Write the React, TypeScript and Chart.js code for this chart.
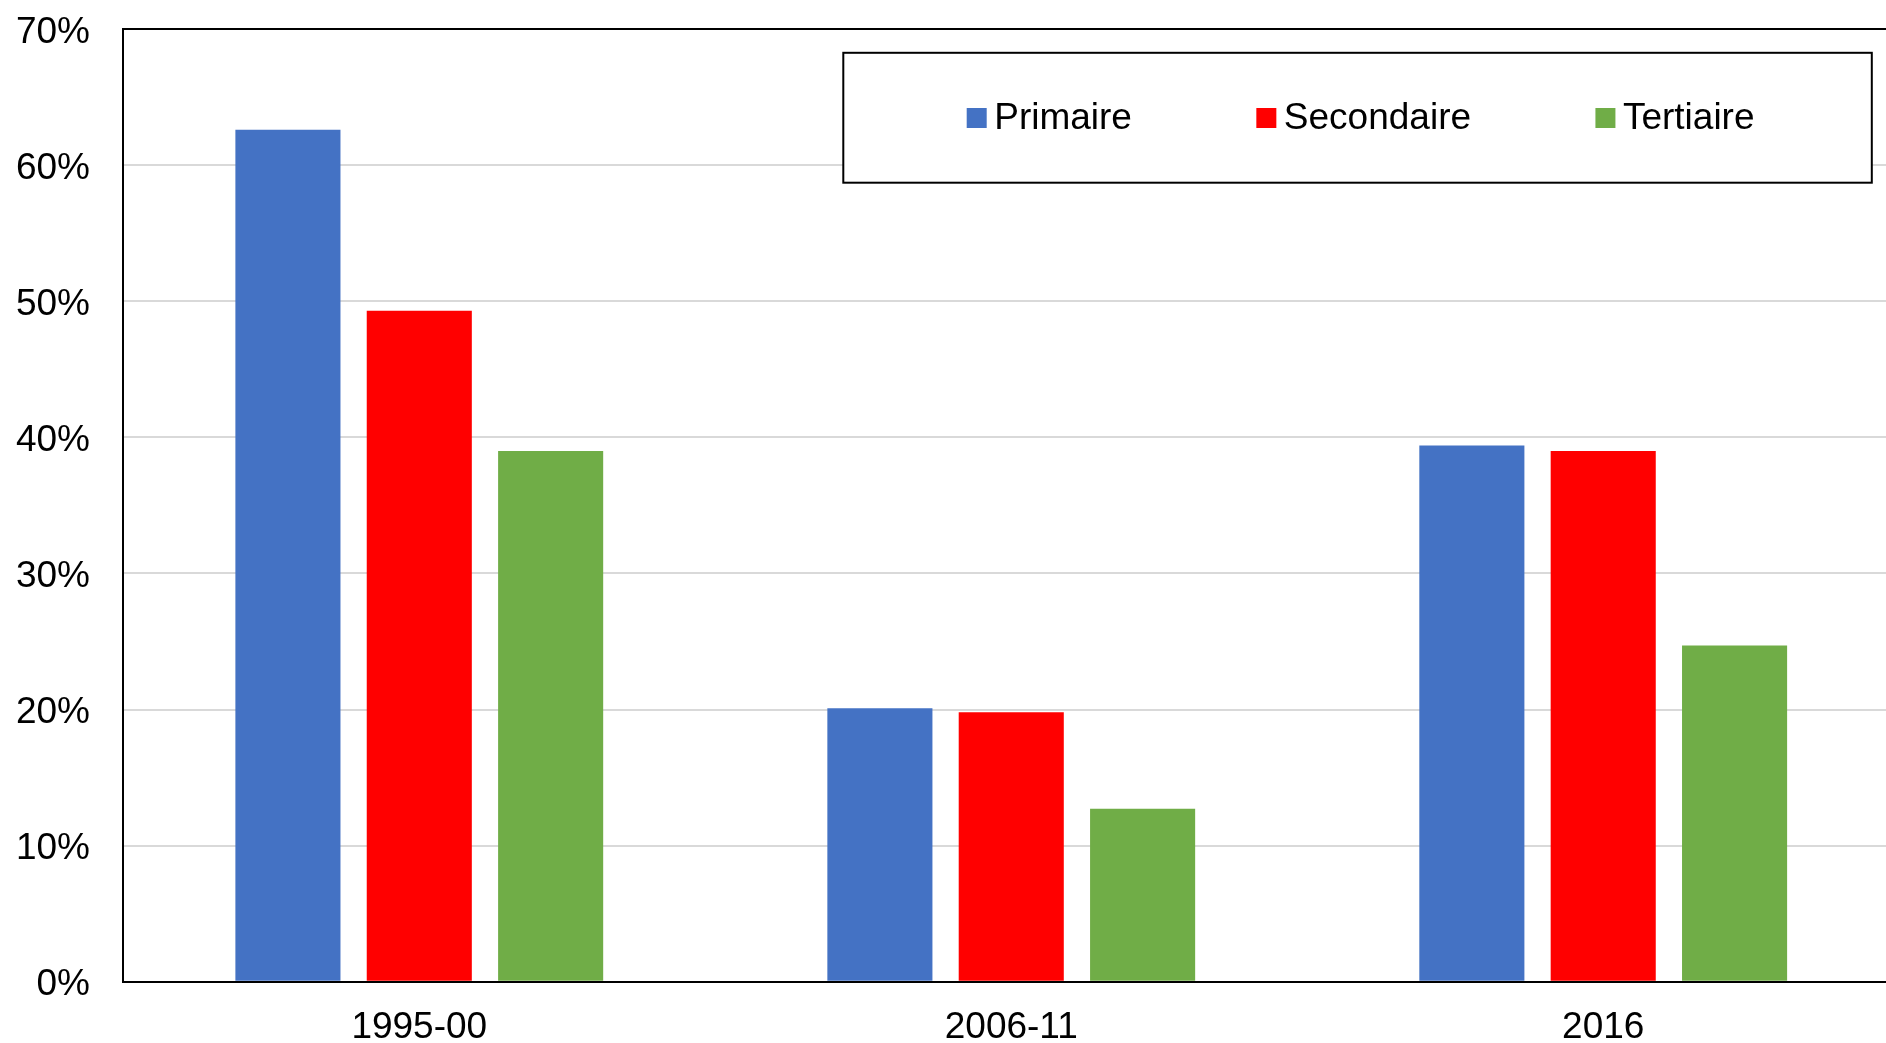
import { useEffect, useRef } from "react";
import { Chart, registerables } from "chart.js";

Chart.register(...registerables);

const categories = ["1995-00", "2006-11", "2016"];
const primaire = [62.6, 20.1, 39.4];
const secondaire = [49.3, 19.8, 39.0];
const tertiaire = [39.0, 12.7, 24.7];
const seriesLabels = ["Primaire", "Secondaire", "Tertiaire"];
const seriesColors = ["#4472C4", "#FF0000", "#70AD47"];
const yMin = 0;
const yMax = 70;
const yStep = 10;

const FONT = '"Liberation Sans", Arial, sans-serif';
const FONT_SIZE = 37;
const CANVAS_W = 1900;
const CANVAS_H = 1052;

const framePlugin = {
  id: "frame",
  afterDatasetsDraw(chart: any) {
    const { ctx, chartArea } = chart;
    ctx.save();
    ctx.strokeStyle = "#000";
    ctx.lineWidth = 2;
    ctx.beginPath();
    ctx.moveTo(chartArea.left - 1, chartArea.top);
    ctx.lineTo(chartArea.right, chartArea.top);
    ctx.lineTo(chartArea.right, chartArea.bottom);
    ctx.stroke();
    ctx.restore();
  },
};

const legendBoxPlugin = {
  id: "legendBox",
  afterDraw(chart: any) {
    const ctx = chart.ctx;
    ctx.save();
    const bx = 843.3;
    const by = 52.8;
    const bw = 1871.8 - 843.3;
    const bh = 182.7 - 52.8;
    ctx.fillStyle = "#fff";
    ctx.fillRect(bx, by, bw, bh);
    ctx.lineWidth = 2;
    ctx.strokeStyle = "#000";
    ctx.strokeRect(bx, by, bw, bh);
    ctx.font = `${FONT_SIZE}px ${FONT}`;
    ctx.textBaseline = "alphabetic";
    ctx.textAlign = "left";
    const sq = 20;
    const gapText = 7.5;
    const gapItem = 124.4;
    const items = chart.data.datasets.map((ds: any) => ({
      label: ds.label,
      color: ds.backgroundColor,
      w: ctx.measureText(ds.label).width,
    }));
    let x = 966.7;
    const baseline = 129.3;
    for (const it of items) {
      ctx.fillStyle = it.color;
      ctx.fillRect(x, 108, sq, sq);
      ctx.fillStyle = "#000";
      ctx.fillText(it.label, x + sq + gapText, baseline);
      x += sq + gapText + it.w + gapItem;
    }
    ctx.restore();
  },
};

export default function App() {
  const canvasRef = useRef<HTMLCanvasElement | null>(null);

  useEffect(() => {
    if (!canvasRef.current) return;
    const series = [primaire, secondaire, tertiaire];
    const chart = new Chart(canvasRef.current, {
      type: "bar",
      data: {
        labels: categories,
        datasets: series.map((d, i) => ({
          label: seriesLabels[i],
          data: d,
          backgroundColor: seriesColors[i],
          borderWidth: 0,
          categoryPercentage: 0.6657,
          barPercentage: 0.8,
        })),
      },
      options: {
        responsive: false,
        animation: false,
        devicePixelRatio: 1,
        layout: { padding: { left: 0, top: 29, right: 0.8, bottom: 0 } },
        plugins: {
          legend: { display: false },
          tooltip: { enabled: false },
        },
        scales: {
          x: {
            z: 1,
            grid: { display: false, drawTicks: false },
            border: { display: true, color: "#000", width: 2 },
            ticks: {
              color: "#000",
              padding: 24,
              font: { family: FONT, size: FONT_SIZE },
              maxRotation: 0,
            },
            afterFit: (scale: any) => {
              scale.height = CANVAS_H - 981.7;
              scale.paddingLeft = 0;
              scale.paddingRight = 0;
            },
          },
          y: {
            min: yMin,
            max: yMax,
            grid: { color: "#D9D9D9", lineWidth: 2, drawTicks: false },
            border: { display: true, color: "#000", width: 2 },
            ticks: {
              stepSize: yStep,
              color: "#000",
              padding: 33.3,
              labelOffset: 3.5,
              font: { family: FONT, size: FONT_SIZE },
              callback: (v: any) => `${v}%`,
            },
            afterFit: (scale: any) => {
              scale.width = 123.3;
              scale.paddingTop = 0;
              scale.paddingBottom = 0;
            },
          },
        },
      },
      plugins: [framePlugin, legendBoxPlugin],
    } as any);
    return () => chart.destroy();
  }, []);

  return (
    <div
      style={{
        position: "fixed",
        left: 0,
        top: 0,
        width: 1886,
        height: 1043,
        overflow: "hidden",
        background: "#fff",
      }}
    >
      <canvas
        ref={canvasRef}
        width={CANVAS_W}
        height={CANVAS_H}
        style={{ display: "block", width: CANVAS_W, height: CANVAS_H }}
      />
    </div>
  );
}
